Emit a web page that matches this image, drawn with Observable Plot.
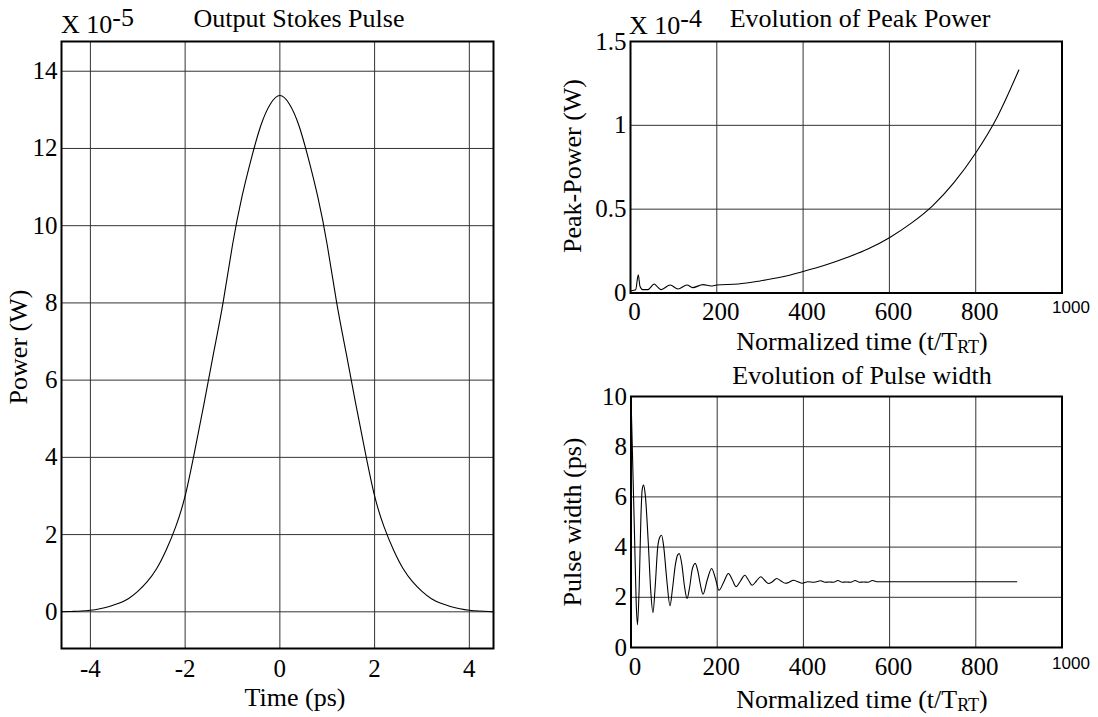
<!DOCTYPE html>
<html><head><meta charset="utf-8">
<script src="https://cdn.jsdelivr.net/npm/d3@7"></script>
<script src="https://cdn.jsdelivr.net/npm/@observablehq/plot@0.6"></script>
<style>
body{margin:0;background:#fff;}
#wrap{position:relative;width:1098px;height:717px;overflow:hidden;background:#fff;}
#wrap svg{position:absolute;left:0;top:0;background:transparent;}
</style></head><body><div id="wrap"></div>
<script>
// ---- Output Stokes Pulse (power x 1e-5 W vs time ps)
const stokesTime = [-4.6,-4.4,-4.2,-4.0,-3.8,-3.6,-3.4,-3.2,-3.0,-2.8,-2.6,-2.4,-2.2,-2.0,-1.8,-1.6,-1.4,-1.2,-1.0,-0.8,-0.6,-0.4,-0.2,0,
  0.2,0.4,0.6,0.8,1.0,1.2,1.4,1.6,1.8,2.0,2.2,2.4,2.6,2.8,3.0,3.2,3.4,3.6,3.8,4.0,4.2,4.4,4.5];
const stokesPower = [0,0.01,0.02,0.04,0.08,0.14,0.22,0.34,0.53,0.78,1.12,1.6,2.2,3.0,4.15,5.4,6.7,8.0,9.5,10.75,11.75,12.6,13.15,13.37,
  13.15,12.6,11.75,10.75,9.5,8.0,6.7,5.4,4.15,3.0,2.2,1.6,1.12,0.78,0.53,0.34,0.22,0.14,0.08,0.04,0.02,0.01,0];
const stokesXTicks = [-4,-2,0,2,4];
const stokesYTicks = [0,2,4,6,8,10,12,14];

// ---- Evolution of Peak Power (x 1e-4 W vs round trips)
const peakT = [0,5,12,18,22,28,40,55,63,71,92,110,131,144,168,187,200,250,300,350,400,450,500,550,600,650,700,750,800,850,900];
const peakP = [0.01,0.015,0.02,0.108,0.04,0.02,0.02,0.054,0.035,0.02,0.048,0.024,0.048,0.032,0.05,0.042,0.048,0.054,0.072,0.095,0.128,0.165,0.21,0.262,0.33,0.415,0.52,0.66,0.835,1.05,1.33];
const peakXTicks = [0,200,400,600,800];
const peakYTicks = [0,0.5,1,1.5];
const peakYLabels = ["0","0.5","1","1.5"];

// ---- Evolution of Pulse width (ps vs round trips)
const widthT = [0,3,8,12,15,19,23,26,29,33,40,46,51,56,62,67,71,76,83,90.5,96,103,108,112,118,124,130,136,142,149,155,161,167,177,187,196,204,215,226,235,244,254,264,272,281,291,301,310,319,328,338,348,358,367,377,387,397,410,425,440,450,460,470,480,490,500,510,520,530,540,550,560,570,600,700,800,895];
const widthV = [10,8,4.6,1.8,0.9,2.4,5.2,6.3,6.47,6.1,4.2,2.2,1.39,2.4,4.0,4.4,4.47,4.0,2.7,1.66,2.3,3.3,3.68,3.74,3.3,2.45,1.95,2.4,3.1,3.35,3.05,2.5,2.12,2.7,3.15,2.75,2.28,2.6,2.95,2.7,2.42,2.65,2.88,2.7,2.48,2.65,2.82,2.68,2.55,2.62,2.75,2.65,2.56,2.6,2.68,2.62,2.56,2.62,2.6,2.66,2.6,2.61,2.6,2.67,2.6,2.61,2.6,2.67,2.6,2.61,2.6,2.67,2.62,2.62,2.62,2.62,2.62];
const widthXTicks = [0,200,400,600,800];
const widthYTicks = [0,2,4,6,8,10];
const rtXTickLast = [1000];

const serif = "Liberation Serif, Times New Roman, serif";
const sans = "Liberation Sans, Arial, sans-serif";
const wrap = document.getElementById("wrap");
const W = 1098, H = 717;

function panel({x, y, xDomain, yDomain, frame, xTicks, yTicks, yFormat, gridX, gridY, xPad, xDx, extraX, curve}) {
  const data = x.map((v, i) => ({x: v, y: y[i]}));
  const marks = [
    Plot.ruleX(gridX, {stroke: "#333", strokeWidth: 1}),
    Plot.ruleY(gridY, {stroke: "#333", strokeWidth: 1}),
    Plot.lineY(data, {x: "x", y: "y", stroke: "#000", strokeWidth: 1.1, curve}),
    Plot.frame({stroke: "#000", strokeWidth: 2}),
    Plot.axisX(xTicks, {label: null, tickSize: 0, tickPadding: xPad, dx: xDx, fontSize: 25, fontFamily: serif, fill: "#000", tickFormat: d => String(d)}),
    Plot.axisY(yTicks, {label: null, tickSize: 0, tickPadding: 4, fontSize: 25, fontFamily: serif, fill: "#000", tickFormat: yFormat})
  ];
  if (extraX) marks.push(Plot.axisX(extraX, {label: null, tickSize: 0, tickPadding: xPad - 1, dx: 9, fontSize: 17, fontFamily: sans, fill: "#000", tickFormat: d => String(d)}));
  const p = Plot.plot({
    width: W, height: H,
    marginLeft: frame[0], marginRight: W - frame[1], marginTop: frame[2], marginBottom: H - frame[3],
    x: {domain: xDomain, label: null},
    y: {domain: yDomain, label: null},
    style: {background: "transparent", fontFamily: serif, color: "#000"},
    marks
  });
  wrap.appendChild(p);
}

panel({x: stokesTime, y: stokesPower, xDomain: [-4.61, 4.51], yDomain: [-0.95, 14.77], frame: [61, 493, 41, 648],
  xTicks: stokesXTicks, yTicks: stokesYTicks, yFormat: d => String(d), gridX: stokesXTicks, gridY: stokesYTicks, xPad: 11, xDx: 0, curve: "natural"});

panel({x: peakT, y: peakP, xDomain: [0, 1000], yDomain: [0, 1.5], frame: [630, 1061.5, 41, 292.5],
  xTicks: peakXTicks, yTicks: peakYTicks, yFormat: (d, i) => peakYLabels[i], gridX: peakXTicks.slice(1), gridY: [0.5, 1], xPad: 9, xDx: 4, extraX: rtXTickLast, curve: "monotone-x"});

panel({x: widthT, y: widthV, xDomain: [0, 1000], yDomain: [0, 10], frame: [630.5, 1061.5, 396, 647],
  xTicks: widthXTicks, yTicks: widthYTicks, yFormat: d => String(d), gridX: widthXTicks.slice(1), gridY: [2, 4, 6, 8], xPad: 10, xDx: 4, extraX: rtXTickLast, curve: "monotone-x"});

// ---- text overlay (titles, axis labels, scale factors)
const ov = d3.select(wrap).append("svg").attr("width", W).attr("height", H)
  .style("font-family", serif).style("fill", "#000");
function txt(x, y, parts, {anchor = "middle", rotate = 0, size = 26} = {}) {
  const t = ov.append("text").attr("text-anchor", anchor).attr("font-size", size)
    .attr("transform", `translate(${x},${y}) rotate(${rotate})`);
  for (const p of parts) {
    const s = t.append("tspan").text(p.t);
    if (p.size) s.attr("font-size", p.size);
    if (p.dy) s.attr("dy", p.dy);
  }
}
txt(61, 33, [{t: "X 10"}, {t: "-5", dy: -7}], {anchor: "start"});
txt(299, 27, [{t: "Output Stokes Pulse"}]);
txt(27, 347, [{t: "Power (W)"}], {rotate: -90});
txt(295, 706, [{t: "Time (ps)"}]);

txt(629, 34, [{t: "X 10"}, {t: "-4", dy: -7}], {anchor: "start"});
txt(860, 27, [{t: "Evolution of Peak Power"}]);
txt(581, 166, [{t: "Peak-Power (W)"}], {rotate: -90});
txt(862, 350, [{t: "Normalized time (t/T"}, {t: "RT", size: 18, dy: 3}, {t: ")", dy: -3}]);

txt(862, 384, [{t: "Evolution of Pulse width"}]);
txt(581, 522, [{t: "Pulse width (ps)"}], {rotate: -90});
txt(862, 708, [{t: "Normalized time (t/T"}, {t: "RT", size: 18, dy: 3}, {t: ")", dy: -3}]);
</script>
</body></html>
